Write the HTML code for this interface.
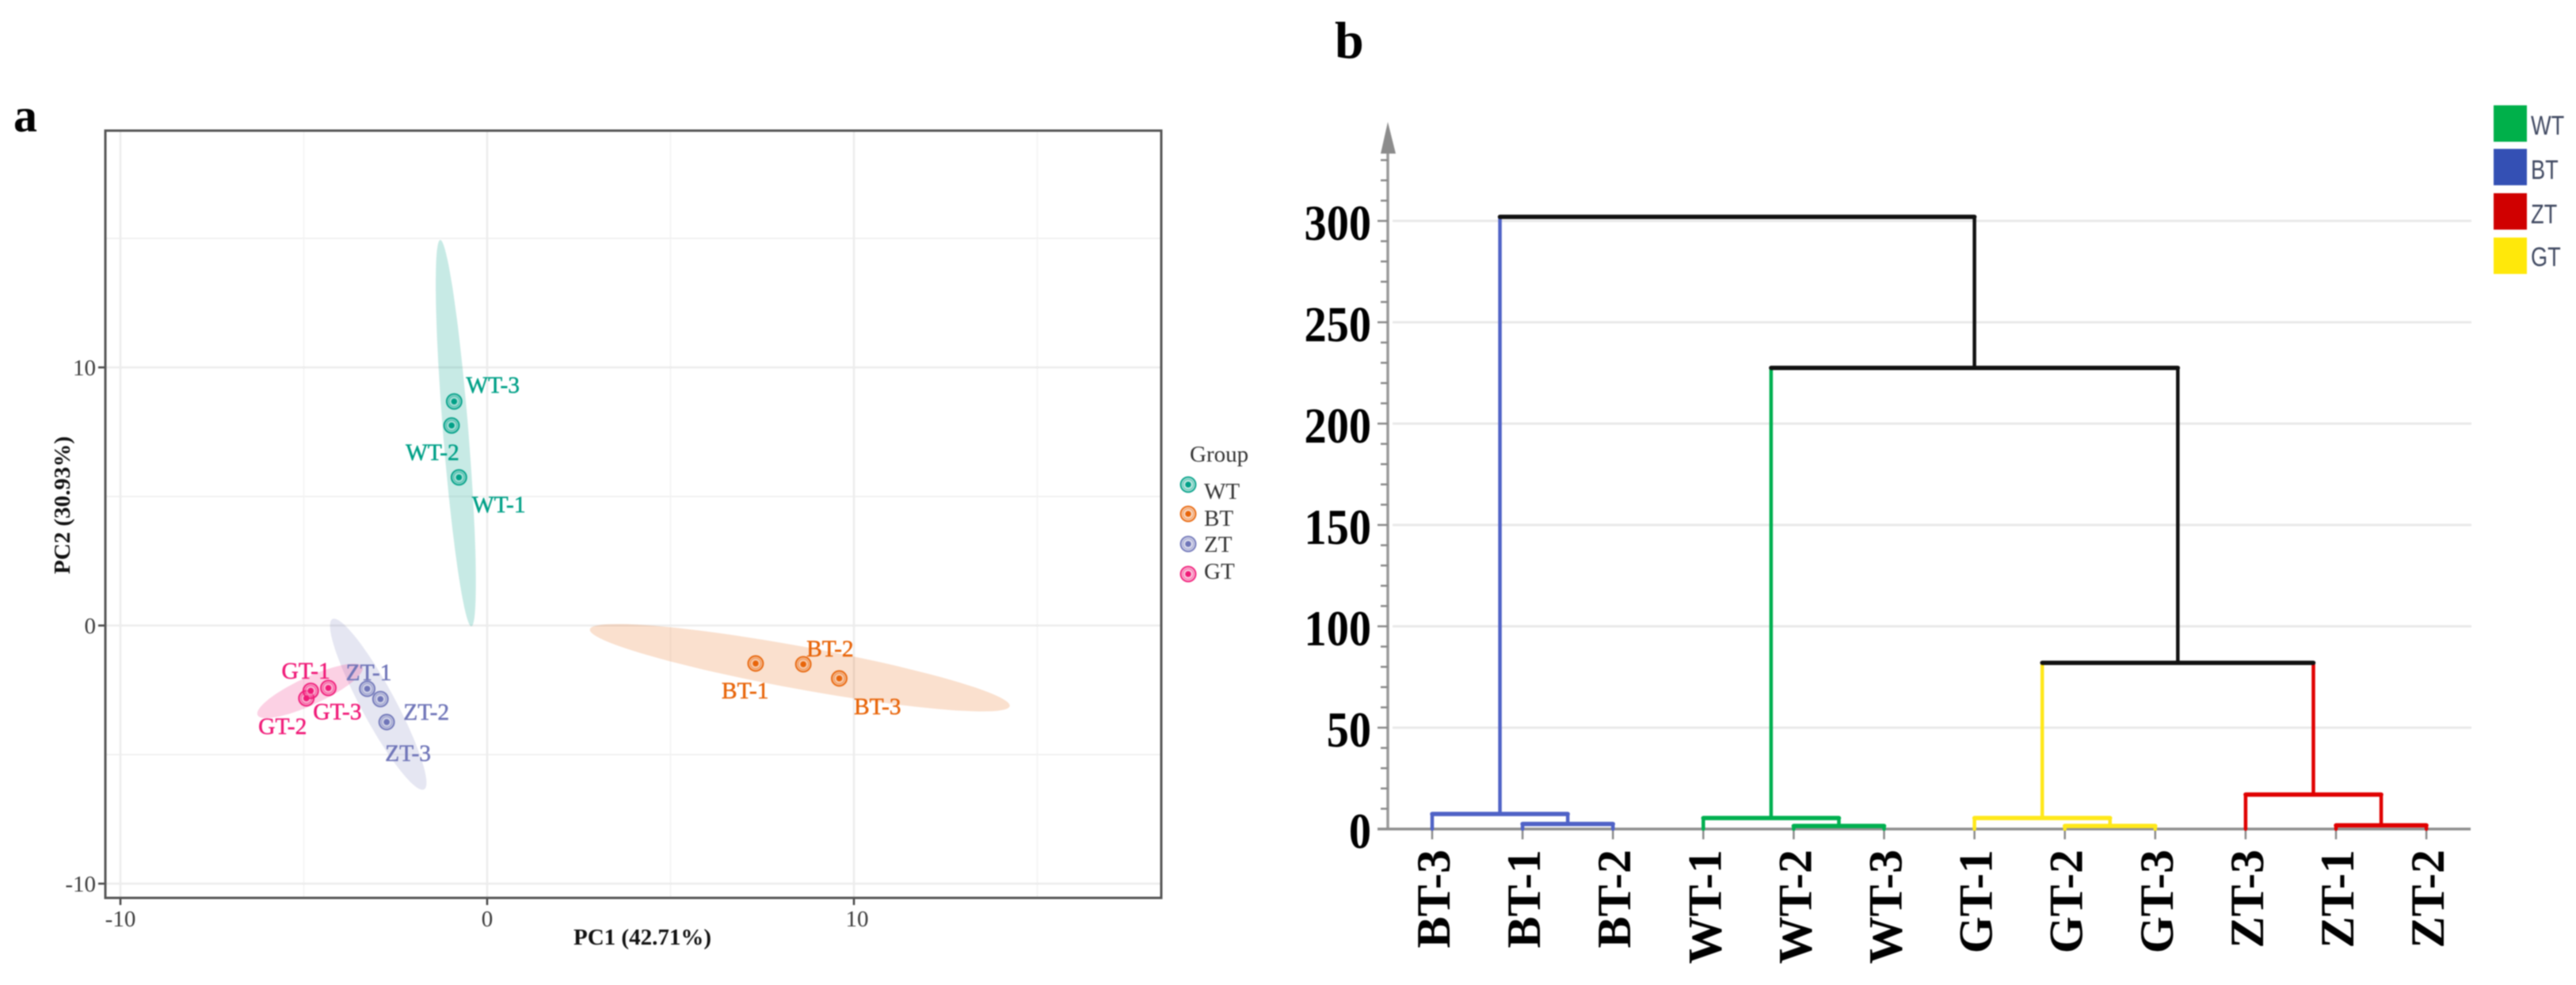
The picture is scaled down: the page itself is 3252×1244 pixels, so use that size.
<!DOCTYPE html>
<html lang="en">
<head>
<meta charset="utf-8">
<title>PCA and hierarchical clustering</title>
<style>
html,body{margin:0;padding:0;background:#fff;width:3252px;height:1244px;overflow:hidden}
svg{display:block;filter:blur(0.8px)}
text{font-family:"Liberation Serif",serif}
</style>
</head>
<body>
<svg id="figure" xmlns="http://www.w3.org/2000/svg" width="3252" height="1244" viewBox="0 0 3252 1244">
  <rect width="3252" height="1244" fill="#fff"/>
  <text x="17" y="166" font-size="60" font-weight="bold" fill="#000">a</text>
  <text x="1685" y="73" font-size="66" font-weight="bold" fill="#000">b</text>
  <g id="pca"></g>
  <text x="811" y="1193" font-size="29" font-weight="bold" text-anchor="middle" fill="#111">PC1 (42.71%)</text>
  <text transform="translate(88,638) rotate(-90)" font-size="29" font-weight="bold" text-anchor="middle" fill="#111">PC2 (30.93%)</text>
  <text x="1502" y="583" font-size="29" fill="#333">Group</text>
  <g id="dendro"></g>
</svg>
<script>
// ---------- PCA data (panel a) ----------
const sampleNames = ["WT-1","WT-2","WT-3","BT-1","BT-2","BT-3","ZT-1","ZT-2","ZT-3","GT-1","GT-2","GT-3"];
const sampleGroups = ["WT","WT","WT","BT","BT","BT","ZT","ZT","ZT","GT","GT","GT"];
const pc1Values = [-0.77,-0.97,-0.90,7.32,8.62,9.60,-3.27,-2.91,-2.74,-4.33,-4.93,-4.81];
const pc2Values = [5.74,7.75,8.68,-1.47,-1.50,-2.05,-2.45,-2.85,-3.74,-2.42,-2.82,-2.53];
const groupNames = ["WT","BT","ZT","GT"];
const ellipseTipAx = [-1.28,2.80,-4.22,-6.26];
const ellipseTipAy = [14.94,-0.15,0.25,-3.47];
const ellipseTipBx = [-0.43,14.25,-1.72,-3.40];
const ellipseTipBy = [-0.03,-3.12,-6.35,-1.60];
const ellipseMinorX = [0.345,-0.104,0.41,0.159];
const ellipseMinorY = [0.04,-0.813,0.313,-0.488];
const pcaMajorTicksX = [-10,0,10];
const pcaMajorTicksY = [-10,0,10];
const pcaMinorGridX = [-5,5,15];
const pcaMinorGridY = [-5,5,15];

// ---------- Dendrogram data (panel b) ----------
const leafNames = ["BT-3","BT-1","BT-2","WT-1","WT-2","WT-3","GT-1","GT-2","GT-3","ZT-3","ZT-1","ZT-2"];
// merge k creates node leafNames.length + k from two child node ids
const mergeLeft = [1,0,4,3,7,6,10,9,17,15,13];
const mergeRight = [2,12,5,14,8,16,11,18,19,20,21];
const mergeHeights = [2.5,7.4,1.5,5.4,1.5,5.4,1.8,17,82,227.5,302];
const distanceTicks = [0,50,100,150,200,250,300];
const distanceMinorMax = 330;
const distanceMinorStep = 10;

// ---------- Styling lookups ----------
const NS = "http://www.w3.org/2000/svg";
const pcaColors = {WT:"#00a087",BT:"#e8650a",ZT:"#6f75b8",GT:"#f01a78"};
const ellipseAlpha = {WT:0.22,BT:0.2,ZT:0.18,GT:0.2};
const labelNudge = {"WT-1":[16.5,44],"WT-2":[-58,43.5],"WT-3":[15,-11],"BT-1":[-43,44],"BT-2":[4,-10],"BT-3":[18.5,45],"ZT-1":[-27,-11],"ZT-2":[29,26],"ZT-3":[-2,49],"GT-1":[-59,-12],"GT-2":[-60.6,45],"GT-3":[3,36]};
const dendroColors = {WT:"#00b050",BT:"#4f62c6",ZT:"#e00000",GT:"#ffe81a"};
const legendSwatch = {WT:"#00b04a",BT:"#3450b4",ZT:"#d00000",GT:"#ffe80a"};

function mk(parent, tag, attrs, txt){
  const el = document.createElementNS(NS, tag);
  for (const k in attrs) el.setAttribute(k, attrs[k]);
  if (txt !== undefined) el.textContent = txt;
  parent.appendChild(el);
  return el;
}

// ---------- Panel a ----------
const pca = document.getElementById("pca");
const PL = 133, PR = 1466, PT = 165, PB = 1134;
function sx(v){ return 615 + v * 46.3; }
function sy(v){ return 790 - v * 32.6; }

pcaMinorGridX.forEach(function(v){
  const el = mk(pca,"line",{x1:sx(v),x2:sx(v),y1:PT,y2:PB,stroke:"#f5f5f5","stroke-width":2});
  
  
});
pcaMinorGridY.forEach(function(v){
  const el = mk(pca,"line",{x1:PL,x2:PR,y1:sy(v),y2:sy(v),stroke:"#f1f1f1","stroke-width":2});
  
  
});
pcaMajorTicksX.forEach(function(v){
  const el = mk(pca,"line",{x1:sx(v),x2:sx(v),y1:PT,y2:PB,stroke:"#ececec","stroke-width":2.5});
  
  
  const t = mk(pca,"line",{x1:sx(v),x2:sx(v),y1:PB,y2:PB+9,stroke:"#444","stroke-width":2.5});
  
  
  const l = mk(pca,"text",{x:sx(v)+(v>0?4:0),y:1170,"font-size":29,"text-anchor":"middle",fill:"#3a3a3a"},String(v));
  
  
});
pcaMajorTicksY.forEach(function(v){
  const el = mk(pca,"line",{x1:PL,x2:PR,y1:sy(v),y2:sy(v),stroke:"#ececec","stroke-width":2.5});
  
  
  const t = mk(pca,"line",{x1:PL-9,x2:PL,y1:sy(v),y2:sy(v),stroke:"#444","stroke-width":2.5});
  
  
  const l = mk(pca,"text",{x:PL-12,y:sy(v)+10,"font-size":29,"text-anchor":"end",fill:"#3a3a3a"},String(v));
  
  
});

groupNames.forEach(function(g,i){
  const cx = (ellipseTipAx[i]+ellipseTipBx[i])/2, cy = (ellipseTipAy[i]+ellipseTipBy[i])/2;
  const mx = (ellipseTipAx[i]-ellipseTipBx[i])/2, my = (ellipseTipAy[i]-ellipseTipBy[i])/2;
  let d = "";
  for (let a = 0; a < 96; a++){
    const t = a/96*2*Math.PI;
    const dx = cx + mx*Math.cos(t) + ellipseMinorX[i]*Math.sin(t);
    const dy = cy + my*Math.cos(t) + ellipseMinorY[i]*Math.sin(t);
    d += (a ? "L" : "M") + sx(dx).toFixed(1) + " " + sy(dy).toFixed(1);
  }
  const el = mk(pca,"path",{d:d+"Z",fill:pcaColors[g],"fill-opacity":ellipseAlpha[g]});
  
  
});

function drawMarker(x,y,c,parentName){
  const g = mk(pca,"g",{});
  
  
  mk(g,"circle",{cx:x,cy:y,r:9.5,fill:c,"fill-opacity":0.35,stroke:c,"stroke-width":1.8});
  mk(g,"circle",{cx:x,cy:y,r:6.5,fill:"#fff","fill-opacity":0.3,stroke:c,"stroke-opacity":0.5,"stroke-width":1});
  mk(g,"circle",{cx:x,cy:y,r:3.8,fill:c});
}

sampleNames.forEach(function(n,i){
  drawMarker(sx(pc1Values[i]),sy(pc2Values[i]),pcaColors[sampleGroups[i]],'point-'+n.toLowerCase());
});
sampleNames.forEach(function(n,i){
  const off = labelNudge[n];
  const c = pcaColors[sampleGroups[i]];
  const el = mk(pca,"text",{x:sx(pc1Values[i])+off[0],y:sy(pc2Values[i])+off[1],"font-size":29.5,fill:c,stroke:c,"stroke-width":0.5},n);
  
  
});

const frame = mk(pca,"rect",{x:PL,y:PT,width:PR-PL,height:PB-PT,fill:"none",stroke:"#555","stroke-width":3});



const pcaLegendY = [612,649,687,725];
const pcaLegendBase = [630,664,697,731];
groupNames.forEach(function(g,i){
  drawMarker(1500,pcaLegendY[i],pcaColors[g],'pca-legend-marker-'+g.toLowerCase());
  const el = mk(pca,"text",{x:1520,y:pcaLegendBase[i],"font-size":29,fill:"#333"},g);
  
  
});

// ---------- Panel b ----------
const dendro = document.getElementById("dendro");
const AX = 1752, AXR = 3119;
function hy(v){ return 1047 - v * 2.56; }
function leafX(i){ return 1808 + i * 114.1; }

distanceTicks.forEach(function(v){
  if (v === 0) return;
  const el = mk(dendro,"line",{x1:1758,x2:3120,y1:hy(v),y2:hy(v),stroke:"#e9e9e9","stroke-width":3});
  
  
});
const yAxis = mk(dendro,"line",{x1:AX,x2:AX,y1:190,y2:1047,stroke:"#9a9a9a","stroke-width":3.5});


const arrow = mk(dendro,"polygon",{points:"1752,154 1743,194 1762,194",fill:"#8c8c8c"});


for (let v = distanceMinorStep; v <= distanceMinorMax; v += distanceMinorStep){
  if (distanceTicks.indexOf(v) >= 0) continue;
  const el = mk(dendro,"line",{x1:AX-9,x2:AX,y1:hy(v),y2:hy(v),stroke:"#8a8a8a","stroke-width":2.5});
  
  
}
distanceTicks.forEach(function(v){
  const t = mk(dendro,"line",{x1:AX-13,x2:AX,y1:hy(v),y2:hy(v),stroke:"#8a8a8a","stroke-width":2.5});
  
  
  const l = mk(dendro,"text",{transform:"translate(1731,"+(hy(v)+24)+") scale(.88,1)","font-size":64,"font-weight":"bold","text-anchor":"end",fill:"#000"},String(v));
  
  
});
const xAxis = mk(dendro,"line",{x1:AX-13,x2:AXR,y1:hy(0),y2:hy(0),stroke:"#8f8f8f","stroke-width":3.5});



leafNames.forEach(function(n,i){
  const t = mk(dendro,"line",{x1:leafX(i),x2:leafX(i),y1:hy(0),y2:hy(0)+13,stroke:"#8a8a8a","stroke-width":2.5});
  
  
  const l = mk(dendro,"text",{transform:"translate("+(leafX(i)+22)+",1073) rotate(-90)","font-size":60,"font-weight":"bold","text-anchor":"end",fill:"#000"},n);
  
  
});

// resolve tree geometry from the merge arrays
const nodeX = leafNames.map(function(n,i){ return leafX(i); });
const nodeH = leafNames.map(function(){ return 0; });
const nodeC = leafNames.map(function(n){ return dendroColors[n.slice(0,2)]; });
mergeHeights.forEach(function(h,k){
  const a = mergeLeft[k], b = mergeRight[k];
  nodeX.push((nodeX[a]+nodeX[b])/2);
  nodeH.push(h);
  nodeC.push(nodeC[a] === nodeC[b] ? nodeC[a] : "#111");
});
mergeHeights.forEach(function(h,k){
  const a = mergeLeft[k], b = mergeRight[k];
  const legA = mk(dendro,"line",{x1:nodeX[a],x2:nodeX[a],y1:hy(h),y2:hy(nodeH[a]),stroke:nodeC[a],"stroke-width":4.5,"stroke-linecap":"round"});
  
  
  const legB = mk(dendro,"line",{x1:nodeX[b],x2:nodeX[b],y1:hy(h),y2:hy(nodeH[b]),stroke:nodeC[b],"stroke-width":4.5,"stroke-linecap":"round"});
  
  
});
mergeHeights.forEach(function(h,k){
  const id = leafNames.length + k, a = mergeLeft[k], b = mergeRight[k];
  const bar = mk(dendro,"line",{x1:nodeX[a],x2:nodeX[b],y1:hy(h),y2:hy(h),stroke:nodeC[id],"stroke-width":5.5,"stroke-linecap":"round"});
  
  
});

const swatchTop = [133,188,244,300];
const swatchBase = [170,226,282,336];
groupNames.forEach(function(g,i){
  const s = mk(dendro,"rect",{x:3148,y:swatchTop[i],width:42,height:46,fill:legendSwatch[g]});
  
  
  const l = mk(dendro,"text",{transform:"translate(3195,"+swatchBase[i]+") scale(.8,1)","font-size":34,fill:"#414a62","style":"font-family:'Liberation Sans',sans-serif"},g);
  
  
});
</script>
</body>
</html>
